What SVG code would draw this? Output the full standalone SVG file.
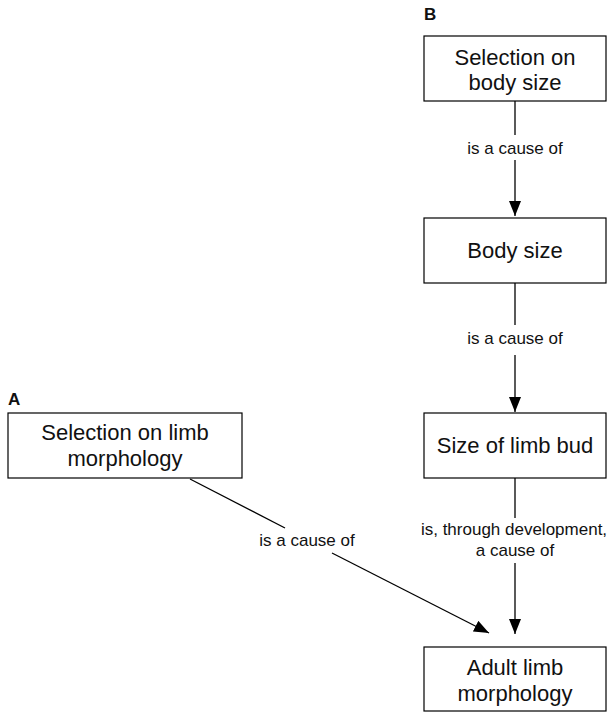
<svg xmlns="http://www.w3.org/2000/svg" width="611" height="712" viewBox="0 0 611 712">
<style>
.box{fill:#fff;stroke:#000;stroke-width:1.2}
.t{font-family:"Liberation Sans",Arial,sans-serif;font-size:22px;fill:#111;text-anchor:middle}
.lbl{font-family:"Liberation Sans",Arial,sans-serif;font-size:17px;fill:#111;text-anchor:middle}
.panel{font-family:"Liberation Sans",Arial,sans-serif;font-size:17px;font-weight:bold;fill:#111}
.ln{stroke:#000;stroke-width:1.3;fill:none}
</style>
<defs>
<marker id="ah" markerUnits="userSpaceOnUse" markerWidth="16" markerHeight="12" refX="15" refY="6" orient="auto">
<path d="M0,0 L15,6 L0,12 Z" fill="#000"/>
</marker>
</defs>
<rect width="611" height="712" fill="#fff"/>
<text class="panel" x="424" y="20">B</text>
<text class="panel" x="8" y="405">A</text>
<g id="connectors">
<line class="ln" x1="515" y1="101" x2="515" y2="135"/>
<line class="ln" x1="515" y1="160" x2="515" y2="216" marker-end="url(#ah)"/>
<text class="lbl" x="515" y="154">is a cause of</text>
<line class="ln" x1="515" y1="283" x2="515" y2="325"/>
<line class="ln" x1="515" y1="355" x2="515" y2="412" marker-end="url(#ah)"/>
<text class="lbl" x="515" y="344">is a cause of</text>
<line class="ln" x1="515" y1="478" x2="515" y2="518"/>
<line class="ln" x1="515" y1="563" x2="515" y2="634" marker-end="url(#ah)"/>
<text class="lbl" x="514" y="535">is, through development,</text>
<text class="lbl" x="515" y="556">a cause of</text>
<line class="ln" x1="190" y1="479" x2="285" y2="528"/>
<line class="ln" x1="332" y1="553" x2="489" y2="633" marker-end="url(#ah)"/>
<text class="lbl" x="307" y="546">is a cause of</text>
</g>
<g id="selection-body-size">
<rect class="box" x="424" y="36" width="182" height="65"/>
<text class="t" x="515" y="65">Selection on</text>
<text class="t" x="515" y="90">body size</text>
</g>
<g id="body-size">
<rect class="box" x="424" y="218" width="182" height="65"/>
<text class="t" x="515" y="258">Body size</text>
</g>
<g id="size-limb-bud">
<rect class="box" x="424" y="413" width="182" height="65"/>
<text class="t" x="515" y="453">Size of limb bud</text>
</g>
<g id="selection-limb">
<rect class="box" x="8" y="413" width="234" height="65"/>
<text class="t" x="125" y="440">Selection on limb</text>
<text class="t" x="125" y="466">morphology</text>
</g>
<g id="adult-limb">
<rect class="box" x="424" y="647" width="182" height="64"/>
<text class="t" x="515" y="675">Adult limb</text>
<text class="t" x="515" y="701">morphology</text>
</g>
</svg>
